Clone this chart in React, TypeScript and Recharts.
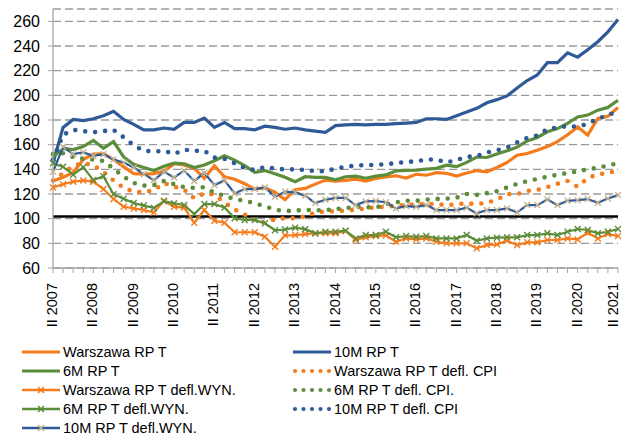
import React from "react";
import { CartesianGrid, Line, LineChart, ReferenceLine, XAxis, YAxis } from "recharts";

// kwartały od II 2007 do II 2021
const romans = ["I", "II", "III", "IV"];
const quarters: string[] = [];
for (let y = 2007; y <= 2021; y++) {
  for (let q = 0; q < 4; q++) {
    if ((y === 2007 && q === 0) || (y === 2021 && q > 1)) continue;
    quarters.push(`${romans[q]} ${y}`);
  }
}

const warsawRPT = [130.5, 133.5, 137.5, 148, 152.3, 152.5, 148, 142, 136.5, 136, 136.5, 138.5, 144.5, 143.5, 140.7, 132.6, 142.9, 134, 132, 128.3, 124, 125, 121.5, 115.5, 123.5, 124.5, 128, 131.3, 130.5, 131, 132, 130.5, 132.6, 133.8, 134.8, 133, 136, 135.2, 137.3, 136.8, 134.5, 137, 139, 138, 141.5, 145.5, 151.5, 152.8, 155.5, 158.5, 162.5, 168, 174.4, 167.7, 181.2, 183.1, 190.1];
const m10RPT = [145, 174, 180.5, 179.5, 181, 183.5, 187, 180.5, 176.5, 172, 172, 173.5, 172.5, 178, 178, 181.5, 174, 178, 173, 173, 172, 175, 174, 172.5, 173.5, 172, 171, 170, 175.5, 176, 176.5, 176, 176.5, 176.5, 177, 177.5, 178, 181, 181, 180.5, 183.5, 186.5, 189.5, 194, 196.5, 199.5, 206, 212, 216.5, 226.5, 226.5, 234.5, 231, 237, 243.5, 251.5, 261.5];
const m6RPT = [150, 157, 156, 158.5, 163.5, 157, 162.5, 150, 144, 141.5, 139, 142.5, 145, 144.5, 141.5, 143.5, 147, 151, 147.5, 143, 137.5, 139, 136.5, 133.5, 130, 134, 133.5, 133.5, 131.5, 134, 134.5, 132.8, 134.5, 135.5, 138.8, 139.2, 139.4, 140.2, 140.8, 143.4, 142.2, 145.6, 150, 149.6, 152.5, 155, 158, 163, 165.8, 170.4, 173, 177.2, 182.5, 184, 188, 190.2, 196];
const warsawCPI = [131, 136.7, 143, 145, 143.5, 138, 131, 125, 121.8, 121.5, 123, 128.8, 126, 123.5, 116.5, 120.5, 119.5, 113, 107.5, 103.3, 99, 96.5, 99.5, 100.3, 100.3, 102, 105, 105.8, 106, 106.5, 107.2, 108.3, 109.2, 109.7, 110.5, 111, 111.8, 111.8, 111.8, 111, 111.7, 112.4, 111.9, 112.8, 115.4, 119.9, 119.9, 122.5, 123.2, 125.6, 128.3, 130.5, 125.9, 133, 135.8, 137.3, 138.5];
const warsawWYN = [125.3, 128, 129.9, 131, 130, 124, 116, 109.6, 108.3, 107, 105, 114.5, 109.6, 109, 96.7, 107, 98.3, 96.7, 89, 89, 89, 85.3, 77.3, 86.5, 86.7, 87.5, 88, 88.1, 88.1, 90, 82.7, 84.9, 85.9, 86.4, 81.3, 84, 83.2, 84, 81.3, 80, 80, 80, 76, 78.6, 79.2, 82.1, 78.6, 80.8, 80.8, 82.7, 82.7, 84, 83.2, 88.6, 84, 87.5, 85.9];
const m6CPI = [152.3, 153, 150, 148.5, 148, 146.8, 140.5, 134, 129, 126.8, 127.2, 130.5, 128, 125.5, 125, 125.5, 121, 118.5, 116, 114.5, 112.5, 110, 107.3, 106.2, 106.5, 107.2, 106.8, 107, 107.8, 108.5, 109.7, 109.4, 109.1, 111.5, 113.3, 114.5, 114.5, 115.5, 116, 116.3, 117, 120, 119.3, 120.7, 122.3, 125.3, 128.1, 130.5, 132.2, 134, 135.6, 137, 138.4, 140, 141.3, 143, 145];
const m6WYN = [145, 142, 135.7, 141.6, 131.3, 134.3, 119.8, 116.2, 112.7, 110.6, 108.7, 114.2, 112.4, 111, 103.7, 111.8, 111.8, 109.1, 100.3, 98.9, 98.9, 96.2, 90.6, 91.2, 92.7, 91.5, 88.1, 89.4, 89.4, 90.2, 84, 86.7, 86.7, 89.4, 84.9, 85.9, 85.3, 85.9, 84, 84, 84, 86.7, 82.1, 84, 84.6, 84.9, 84.9, 86.7, 86.7, 88.1, 86.7, 89.4, 91.6, 90.8, 88.1, 89.4, 91.6];
const m10CPI = [148, 168, 172, 171, 170, 171, 172, 166, 159.5, 155, 154.5, 155, 152.5, 156, 155, 155, 149.5, 148.5, 145, 141, 139.5, 142, 140.5, 140, 140, 139.5, 138.5, 138.5, 140.5, 142, 143, 143.5, 143.5, 144.2, 145, 146, 146.5, 148, 148, 145.6, 147.5, 150.1, 150.7, 153.7, 155.5, 157.7, 161.8, 165.5, 167.5, 172.5, 174, 175, 174.5, 177, 181, 184, 187];
const m10WYN = [138, 158.3, 152.3, 153.7, 150.9, 152.3, 148, 145.6, 141.5, 136.1, 131.3, 138, 133.4, 139, 130.5, 137.2, 127.2, 131, 120.5, 124, 124, 125.3, 117.8, 121.8, 121.5, 118.5, 112.6, 115.3, 116.8, 116.8, 111, 114, 114.3, 113.3, 108.3, 110.2, 109.6, 111, 107, 107, 107, 108.9, 104.3, 107, 107, 108.3, 105.1, 111, 111, 115.6, 111, 114.5, 115, 115.9, 112.9, 116.4, 119.1];

const yTicks = [60, 80, 100, 120, 140, 160, 180, 200, 220, 240, 260];
const baseLevel = 101.7;

const ORANGE = "#F47C1C";
const GREEN = "#5B8D3B";
const BLUE = "#2E5A97";
const TAN = "#C8B58E";
const FONT = "'Liberation Sans', Arial, sans-serif";

const data = quarters.map((q, i) => ({
  q,
  warsawRPT: warsawRPT[i],
  m10RPT: m10RPT[i],
  m6RPT: m6RPT[i],
  warsawCPI: warsawCPI[i],
  warsawWYN: warsawWYN[i],
  m6CPI: m6CPI[i],
  m6WYN: m6WYN[i],
  m10CPI: m10CPI[i],
  m10WYN: m10WYN[i],
}));

const xMark = (color: string) => (props: any) => {
  const { cx, cy, index } = props;
  if (cx == null || cy == null) return <g key={`x-${index}`} />;
  const s = 3;
  return (
    <path
      key={`x-${index}`}
      d={`M${cx - s},${cy - s}L${cx + s},${cy + s}M${cx - s},${cy + s}L${cx + s},${cy - s}`}
      stroke={color}
      strokeWidth={1.4}
      fill="none"
    />
  );
};

const XTick = (props: any) => {
  const { x, y, payload, index } = props;
  const label: string = payload.value;
  if (!label.startsWith("II ")) return <g />;
  // ostatnia etykieta przy prawej krawędzi — lekko w lewo, żeby się nie ucinała
  const shift = index === quarters.length - 1 ? -5 : -1;
  return (
    <g transform={`translate(${x},${y})`}>
      <text
        transform="rotate(-90)"
        x={-8}
        y={shift}
        textAnchor="end"
        dominantBaseline="central"
        fontSize={14.5}
        fontFamily={FONT}
        fill="#000"
      >
        {label}
      </text>
    </g>
  );
};

type LegendItem = { name: string; color: string; kind: "solid" | "dots" | "cross"; mark?: string };

const legendLeft: LegendItem[] = [
  { name: "Warszawa RP T", color: ORANGE, kind: "solid" },
  { name: "6M RP T", color: GREEN, kind: "solid" },
  { name: "Warszawa RP T defl.WYN.", color: ORANGE, kind: "cross", mark: ORANGE },
  { name: "6M RP T defl.WYN.", color: GREEN, kind: "cross", mark: GREEN },
  { name: "10M RP T defl.WYN.", color: BLUE, kind: "cross", mark: TAN },
];
const legendRight: LegendItem[] = [
  { name: "10M RP T", color: BLUE, kind: "solid" },
  { name: "Warszawa RP T defl. CPI", color: ORANGE, kind: "dots" },
  { name: "6M RP T defl. CPI.", color: GREEN, kind: "dots" },
  { name: "10M RP T defl. CPI", color: BLUE, kind: "dots" },
];

function LegendIcon({ item }: { item: LegendItem }) {
  return (
    <svg width={40} height={12} style={{ display: "block", marginRight: 2 }}>
      {item.kind === "solid" && <line x1={1} x2={39} y1={6} y2={6} stroke={item.color} strokeWidth={3.2} />}
      {item.kind === "cross" && (
        <>
          <line x1={1} x2={39} y1={6} y2={6} stroke={item.color} strokeWidth={2.6} />
          <path d="M17,3L23,9M17,9L23,3" stroke={item.mark} strokeWidth={1.5} />
        </>
      )}
      {item.kind === "dots" &&
        [3, 11.5, 20, 28.5, 37].map((cx) => <circle key={cx} cx={cx} cy={6} r={2.1} fill={item.color} />)}
    </svg>
  );
}

function LegendColumn({ items, left }: { items: LegendItem[]; left: number }) {
  return (
    <>
      {items.map((it, i) => (
        <div
          key={it.name}
          style={{
            position: "absolute",
            left,
            top: 343 + i * 19,
            height: 18,
            display: "flex",
            alignItems: "center",
            fontFamily: FONT,
            fontSize: 14.5,
            color: "#000",
            whiteSpace: "nowrap",
          }}
        >
          <LegendIcon item={it} />
          <span>{it.name}</span>
        </div>
      ))}
    </>
  );
}

export default function App() {
  return (
    <div style={{ position: "absolute", left: 0, top: 0, width: 621, height: 436, background: "#fff", overflow: "hidden" }}>
      <LineChart width={621} height={340} data={data} margin={{ top: 9, right: 3, bottom: 7, left: 0 }}>
        <CartesianGrid vertical={false} stroke="#9A9A9A" strokeWidth={1.3} strokeDasharray="8 4" />
        <XAxis
          dataKey="q"
          interval={0}
          height={65}
          tick={<XTick />}
          tickSize={5}
          tickLine={{ stroke: "#A6A6A6" }}
          axisLine={{ stroke: "#A6A6A6", strokeWidth: 1.3 }}
        />
        <YAxis
          width={53}
          domain={[60, 270]}
          ticks={yTicks}
          interval={0}
          tickSize={5}
          tickMargin={8}
          tickLine={{ stroke: "#A6A6A6" }}
          axisLine={{ stroke: "#A6A6A6", strokeWidth: 1.3 }}
          tick={{ fill: "#000", fontSize: 16, fontFamily: FONT }}
        />
        <ReferenceLine y={baseLevel} stroke="#000" strokeWidth={2.5} />
        <Line type="linear" dataKey="warsawRPT" stroke={ORANGE} strokeWidth={3.2} dot={false} isAnimationActive={false} />
        <Line type="linear" dataKey="m10RPT" stroke={BLUE} strokeWidth={3.2} dot={false} isAnimationActive={false} />
        <Line type="linear" dataKey="m6RPT" stroke={GREEN} strokeWidth={3.2} dot={false} isAnimationActive={false} />
        <Line type="linear" dataKey="warsawCPI" stroke={ORANGE} strokeWidth={4.6} strokeDasharray="0 10" strokeLinecap="round" dot={false} isAnimationActive={false} />
        <Line type="linear" dataKey="warsawWYN" stroke={ORANGE} strokeWidth={2.2} dot={xMark(ORANGE)} isAnimationActive={false} />
        <Line type="linear" dataKey="m6CPI" stroke={GREEN} strokeWidth={4.6} strokeDasharray="0 10" strokeLinecap="round" dot={false} isAnimationActive={false} />
        <Line type="linear" dataKey="m6WYN" stroke={GREEN} strokeWidth={2.2} dot={xMark(GREEN)} isAnimationActive={false} />
        <Line type="linear" dataKey="m10CPI" stroke={BLUE} strokeWidth={4.6} strokeDasharray="0 10" strokeLinecap="round" dot={false} isAnimationActive={false} />
        <Line type="linear" dataKey="m10WYN" stroke={BLUE} strokeWidth={2.2} dot={xMark(TAN)} isAnimationActive={false} />
      </LineChart>
      <LegendColumn items={legendLeft} left={21} />
      <LegendColumn items={legendRight} left={292} />
    </div>
  );
}
